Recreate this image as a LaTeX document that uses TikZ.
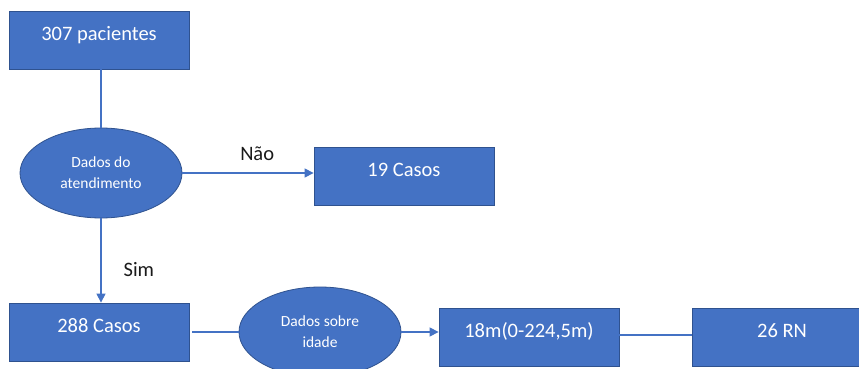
\documentclass[tikz,border=0pt]{standalone}
\usepackage{fontspec}
\setmainfont{Carlito}
\usetikzlibrary{shapes.geometric,arrows.meta}
\definecolor{boxfill}{HTML}{4472C4}
\definecolor{boxline}{HTML}{2F528F}
\definecolor{conn}{HTML}{4472C4}
\definecolor{lbl}{HTML}{1A1A1A}
\tikzset{
  x=1pt,y=1pt,
  boxnode/.style={rectangle,draw=boxline,line width=0.8pt,fill=boxfill,text=white,
    minimum width=180pt,minimum height=58pt,inner sep=0pt,
    font=\fontsize{20.5}{24}\selectfont,text height=14pt,text depth=13pt},
  ellnode/.style={ellipse,draw=boxline,line width=0.8pt,fill=boxfill,text=white,
    minimum width=162pt,minimum height=90pt,inner sep=0pt,align=center,
    font=\fontsize{15.5}{21}\selectfont},
  conline/.style={draw=conn,line width=1.2pt},
  conarrow/.style={conline,-{Triangle[length=9pt,width=9pt]}},
  edgelabel/.style={text=lbl,font=\fontsize{20.5}{24}\selectfont,inner sep=0pt}
}
\begin{document}
\begin{tikzpicture}
\clip (0,0) rectangle (859,-369);
\fill[white] (0,0) rectangle (859,-369);
\node[boxnode] (b1) at (99,-40) {307 pacientes};
\node[ellnode] (e1) at (101,-173) {Dados do\\atendimento};
\node[boxnode] (b2) at (404,-176) {19 Casos};
\node[boxnode] (b3) at (99,-332) {288 Casos};
\node[ellnode] (e2) at (320,-332) {Dados sobre\\idade};
\node[boxnode] (b4) at (529,-337) {18m(0-224,5m)};
\node[boxnode] (b5) at (782,-337) {26 RN};
\draw[conline] (b1.south -| e1.north) -- (e1.north);
\draw[conarrow] (e1.east) -- (b2.west |- e1.east)
  node[edgelabel,pos=0.57,above=12pt] (lnao) {Não};
\draw[conarrow] (e1.south) -- (e1.south |- b3.north)
  node[edgelabel,pos=0.61,right=22pt] (lsim) {Sim};
\draw[conline,shorten <=3pt] (b3.east) -- (e2.west);
\draw[conarrow] (e2.east) -- (b4.west |- e2.east);
\draw[conline] ([yshift=2pt]b4.east) -- ([yshift=2pt]b5.west);
\end{tikzpicture}
\end{document}
